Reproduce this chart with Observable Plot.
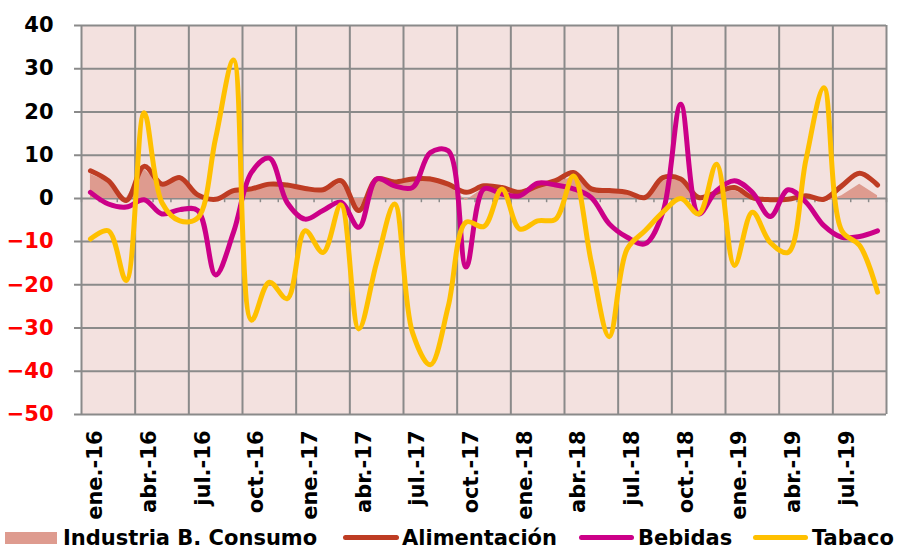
<!DOCTYPE html>
<html><head><meta charset="utf-8">
<script src="https://cdn.jsdelivr.net/npm/d3@7"></script>
<script src="https://cdn.jsdelivr.net/npm/@observablehq/plot@0.6"></script>
<style>
body{margin:0;background:#fff;font-family:"DejaVu Sans",Verdana,sans-serif;}
#wrap{position:relative;width:897px;height:551px;overflow:hidden;}
#legend{position:absolute;left:0;top:524px;width:897px;height:27px;font-weight:bold;font-size:21px;color:#000;}
.item{position:absolute;top:0;height:27px;display:flex;align-items:center;white-space:nowrap;}
.sw{position:absolute;}
</style></head><body><div id="wrap"><div id="chart"></div><div id="legend"></div></div>
<script>
// Months ene-16 .. sep-19 (45 months)
const months = ["ene.-16","feb.-16","mar.-16","abr.-16","may.-16","jun.-16","jul.-16","ago.-16","sep.-16","oct.-16","nov.-16","dic.-16",
"ene.-17","feb.-17","mar.-17","abr.-17","may.-17","jun.-17","jul.-17","ago.-17","sep.-17","oct.-17","nov.-17","dic.-17",
"ene.-18","feb.-18","mar.-18","abr.-18","may.-18","jun.-18","jul.-18","ago.-18","sep.-18","oct.-18","nov.-18","dic.-18",
"ene.-19","feb.-19","mar.-19","abr.-19","may.-19","jun.-19","jul.-19","ago.-19","sep.-19"];
const tickLabels = ["ene.-16","abr.-16","jul.-16","oct.-16","ene.-17","abr.-17","jul.-17","oct.-17","ene.-18","abr.-18","jul.-18","oct.-18","ene.-19","abr.-19","jul.-19"];
const yTicks = [-50,-40,-30,-20,-10,0,10,20,30,40];

const industria = [5.6,3.8,0.0,6.8,2.8,4.5,0.5,-0.9,1.4,2.0,2.8,2.8,
 2.0,1.5,3.5,-2.5,4.0,3.5,4.5,5.0,3.0,-0.5,2.4,
 2.0,1.0,2.4,3.5,5.0,2.0,1.4,1.0,-0.2,4.0,4.8,
 0.0,1.0,1.8,0.0,-0.5,-0.6,0.2,-0.9,0.6,3.3,0.6];
const alimentacion = [6.4,4.1,-0.5,7.4,3.3,4.8,0.8,-0.2,1.8,2.2,3.3,3.1,
 2.3,2.0,4.1,-2.8,4.5,3.8,4.5,4.5,3.3,1.4,2.9,
 2.5,1.4,2.9,4.1,6.0,2.2,1.8,1.4,0.2,4.8,4.5,
 0.2,1.4,2.5,0.2,-0.3,-0.2,0.6,-0.2,2.9,5.8,3.1];
const bebidas = [1.4,-1.3,-2.0,-0.3,-3.6,-2.6,-2.8,-17.7,-7.8,6.0,9.3,-1.0,
 -4.8,-2.8,-0.9,-6.7,4.5,2.9,2.5,10.6,11.0,-15.9,2.2,
 1.0,0.6,3.5,3.1,2.2,0.2,-5.9,-9.0,-10.5,-3.2,21.8,
 -3.6,1.8,4.1,1.4,-4.2,2.0,-0.9,-6.3,-9.0,-8.8,-7.5];
const tabaco = [-9.4,-7.5,-19.0,19.8,-1.0,-5.2,-4.5,14.0,32.0,-28.2,-19.4,-23.2,
 -7.5,-12.5,-1.5,-30.2,-14.8,-1.3,-31.0,-38.5,-25.0,-5.5,-6.5,
 2.2,-7.1,-5.2,-4.8,5.2,-14.8,-32.0,-11.7,-7.5,-3.2,0.0,
 -3.6,7.9,-15.5,-3.2,-10.2,-12.5,9.0,25.6,-7.5,-10.9,-21.7];

const colors = {industria:"#DE9B8F", alimentacion:"#BE3C23", bebidas:"#CC0088", tabaco:"#FFC000"};
const idx = months.map((_, i) => i);
const tickIdx = tickLabels.map(l => months.indexOf(l));
const majorBounds = d3.range(-0.5, 45, 3);
const minorBounds = d3.range(-0.5, 45, 1);
const gridColor = "#8a8a8a";

const lineOpts = (arr, color) => ({x: i => i, y: i => arr[i], curve: "catmull-rom", stroke: color, strokeWidth: 5, strokeLinecap: "round", strokeLinejoin: "round"});

const chart = Plot.plot({
  width: 897, height: 524,
  marginLeft: 81, marginRight: 11, marginTop: 25, marginBottom: 110,
  style: {fontFamily: "'DejaVu Sans', Verdana, sans-serif", fontWeight: "bold", fontSize: "21px", background: "transparent", overflow: "visible"},
  x: {domain: [-0.5, 44.5], axis: null},
  y: {domain: [-50, 40], axis: null},
  marks: [
    Plot.frame({fill: "#F3E1DF", stroke: "none"}),
    Plot.ruleY(yTicks, {x1: -0.89, x2: 44.5, stroke: gridColor, strokeWidth: 2}),
    Plot.ruleX(majorBounds, {y1: -50, y2: 40, stroke: gridColor, strokeWidth: 2}),
    Plot.ruleX(minorBounds, {y1: 0, y2: -1, stroke: gridColor, strokeWidth: 1.5}),
    Plot.areaY(idx, {x: i => i, y: i => industria[i], fill: colors.industria}),
    Plot.line(idx, lineOpts(alimentacion, colors.alimentacion)),
    Plot.line(idx, lineOpts(bebidas, colors.bebidas)),
    Plot.line(idx, lineOpts(tabaco, colors.tabaco)),
    Plot.axisY(yTicks.filter(v => v >= 0), {tickSize: 0, tickPadding: 28, fill: "#000", fontSize: 21, fontWeight: "bold"}),
    Plot.axisY(yTicks.filter(v => v < 0), {tickSize: 0, tickPadding: 28, fill: "#FF0000", fontSize: 21, fontWeight: "bold"}),
    Plot.axisX(tickIdx, {tickSize: 0, tickPadding: 16, tickRotate: -90, tickFormat: i => months[i], fill: "#000", fontSize: 21, fontWeight: "bold", dx: 5})
  ]
});
document.getElementById("chart").appendChild(chart);

// Legend
const legendItems = [
  {name: "Industria B. Consumo", color: colors.industria, type: "rect", sx: 5, sw: 52, tx: 63},
  {name: "Alimentación", color: colors.alimentacion, type: "line", sx: 343, sw: 56, tx: 402},
  {name: "Bebidas", color: colors.bebidas, type: "line", sx: 579, sw: 55, tx: 638},
  {name: "Tabaco", color: colors.tabaco, type: "line", sx: 753, sw: 55, tx: 812}
];
const legend = document.getElementById("legend");
for (const it of legendItems) {
  const sw = document.createElement("div");
  sw.className = "sw";
  sw.style.left = it.sx + "px";
  sw.style.width = it.sw + "px";
  sw.style.background = it.color;
  if (it.type === "rect") { sw.style.top = "8px"; sw.style.height = "12px"; }
  else { sw.style.top = "11px"; sw.style.height = "5px"; sw.style.borderRadius = "3px"; }
  legend.appendChild(sw);
  const t = document.createElement("div");
  t.className = "item";
  t.style.left = it.tx + "px";
  t.textContent = it.name;
  legend.appendChild(t);
}
</script></body></html>
